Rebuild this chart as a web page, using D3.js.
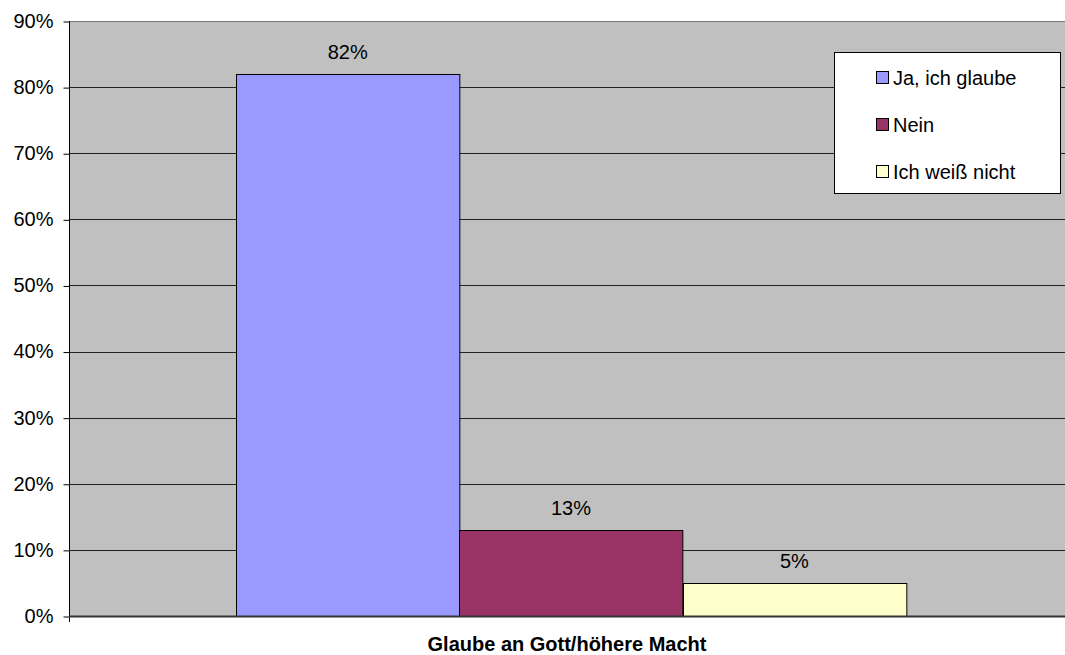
<!DOCTYPE html>
<html><head><meta charset="utf-8">
<script src="https://cdn.jsdelivr.net/npm/d3@7"></script>
<style>body{margin:0;background:#fff}svg{display:block;font-family:"Liberation Sans",Arial,sans-serif}</style>
</head><body><svg id="c" width="1065" height="655"></svg>
<script>
const category = ["Glaube an Gott/höhere Macht"];
const series = ["Ja, ich glaube", "Nein", "Ich weiß nicht"];
const values = [82, 13, 5];
const colors = ["#9999FF", "#993366", "#FFFFCC"];
const yTicks = [0, 10, 20, 30, 40, 50, 60, 70, 80, 90];

const svg = d3.select("#c");
const m = {left: 69, top: 21, right: 1065, bottom: 616};
const FS = 20;
const y = d3.scaleLinear().domain([0, 90]).range([m.bottom, m.top]);
const x0 = d3.scaleBand().domain(category).range([m.left + 4, m.right + 4]).paddingInner(0).paddingOuter(0.2433);
const x1 = d3.scaleBand().domain(series).range([x0(category[0]), x0(category[0]) + x0.bandwidth()]);

svg.append("rect").attr("x", m.left).attr("y", m.top).attr("width", m.right - m.left).attr("height", m.bottom - m.top).attr("fill", "#C0C0C0");

// gridlines
svg.append("g").selectAll("line").data(yTicks.filter(d => d > 0)).join("line")
  .attr("x1", m.left).attr("x2", m.right).attr("y1", d => Math.round(y(d)) + 0.5).attr("y2", d => Math.round(y(d)) + 0.5)
  .attr("stroke", d => d === 90 ? "#777" : "#222").attr("stroke-width", 1);

// y axis
const yAxis = d3.axisLeft(y).tickValues(yTicks).tickFormat(d => d + "%").tickSize(6).tickPadding(10);
const ga = svg.append("g").attr("transform", `translate(${m.left + 0.5},0)`).call(yAxis);
ga.selectAll("text").attr("font-size", FS).attr("fill", "#000").attr("font-family", "Liberation Sans, Arial, sans-serif");
ga.selectAll("line").attr("stroke", "#000");
ga.select(".domain").attr("stroke", "#000").attr("d", `M0,${m.top}V${m.bottom + 6}`);
ga.selectAll(".tick line").attr("transform", "translate(0,0.5)");

// bars
svg.append("g").selectAll("rect").data(series).join("rect")
  .attr("x", d => Math.round(x1(d)) + 0.5).attr("width", x1.bandwidth())
  .attr("y", (d, i) => Math.round(y(values[i])) + 0.5).attr("height", (d, i) => m.bottom - Math.round(y(values[i])))
  .attr("fill", (d, i) => colors[i]).attr("stroke", "#000").attr("stroke-width", 1);

// labels
svg.append("g").selectAll("text").data(series).join("text")
  .attr("x", d => x1(d) + x1.bandwidth() / 2).attr("y", (d, i) => y(values[i]) - 15)
  .attr("text-anchor", "middle").attr("font-size", FS).attr("fill", "#000")
  .text((d, i) => values[i] + "%");

// x axis line
svg.append("line").attr("x1", m.left).attr("x2", m.right).attr("y1", m.bottom + 0.5).attr("y2", m.bottom + 0.5).attr("stroke", "#333").attr("stroke-width", 2);

// x axis title
svg.append("text").attr("x", 567).attr("y", 651).attr("text-anchor", "middle").attr("font-size", FS).attr("font-weight", "bold").text(category[0]);

// legend
const lg = svg.append("g");
lg.append("rect").attr("x", 834.5).attr("y", 52.5).attr("width", 226).attr("height", 141).attr("fill", "#fff").attr("stroke", "#000");
const rowsY = [78, 125, 172];
series.forEach((s, i) => {
  lg.append("rect").attr("x", 876.5).attr("y", rowsY[i] - 6.5).attr("width", 12).attr("height", 12).attr("fill", colors[i]).attr("stroke", "#000");
  lg.append("text").attr("x", 893).attr("y", rowsY[i] + 7).attr("font-size", FS).attr("fill", "#000").text(s);
});
</script></body></html>
